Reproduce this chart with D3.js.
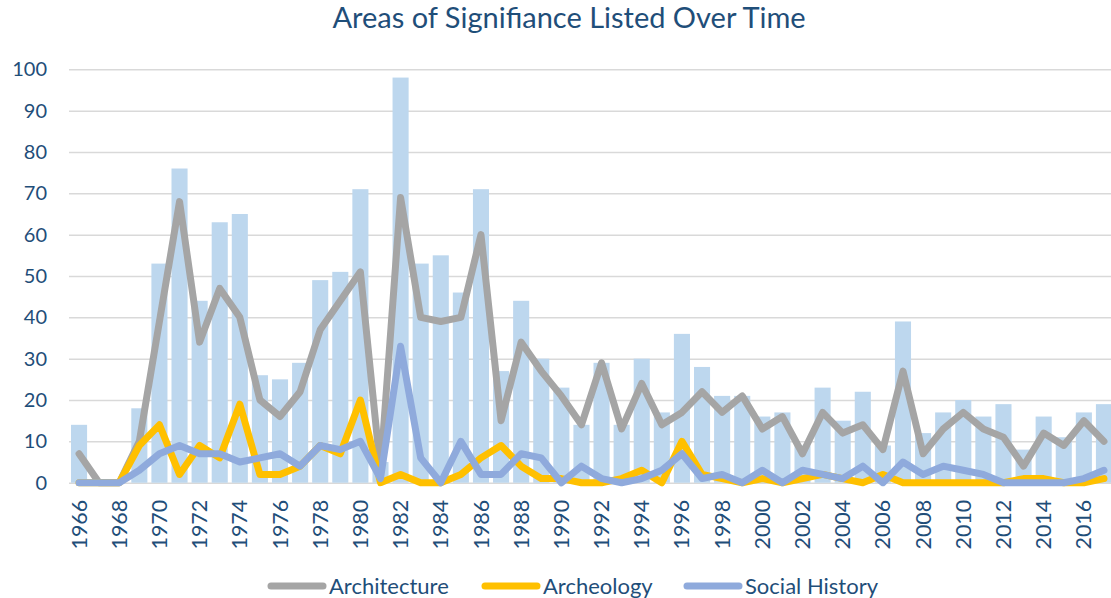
<!DOCTYPE html>
<html>
<head>
<meta charset="utf-8">
<script src="https://cdn.jsdelivr.net/npm/d3@7"></script>
<style>
  body { margin: 0; background: #fff; }
  svg { display: block; font-family: Lato, "Open Sans", sans-serif; }
</style>
</head>
<body>
<div id="chart"></div>
<script>
// values, one per year
var years = [1966,1967,1968,1969,1970,1971,1972,1973,1974,1975,
             1976,1977,1978,1979,1980,1981,1982,1983,1984,1985,
             1986,1987,1988,1989,1990,1991,1992,1993,1994,1995,
             1996,1997,1998,1999,2000,2001,2002,2003,2004,2005,
             2006,2007,2008,2009,2010,2011,2012,2013,2014,2015,
             2016,2017];
var totals = [14,0,0,18,53,76,44,63,65,26,
              25,29,49,51,71,5,98,53,55,46,
              71,27,44,30,23,14,29,14,30,17,
              36,28,21,21,16,17,9,23,15,22,
              9,39,12,17,20,16,19,8,16,11,
              17,19];
var architecture = [7,0,0,10,39,68,34,47,40,20,
                    16,22,37,44,51,3,69,40,39,40,
                    60,15,34,27,21,14,29,13,24,14,
                    17,22,17,21,13,16,7,17,12,14,
                    8,27,7,13,17,13,11,4,12,9,
                    15,10];
var archeology = [0,0,0,9,14,2,9,6,19,2,
                  2,4,9,7,20,0,2,0,0,2,
                  6,9,4,1,1,0,0,1,3,0,
                  10,2,1,0,1,0,1,2,1,0,
                  2,0,0,0,0,0,0,1,1,0,
                  0,1];
var social = [0,0,0,3,7,9,7,7,5,6,
              7,4,9,8,10,1,33,6,0,10,
              2,2,7,6,0,4,1,0,1,3,
              7,1,2,0,3,0,3,2,1,4,
              0,5,2,4,3,2,0,0,0,0,
              1,3];
var yTicks = [0,10,20,30,40,50,60,70,80,90,100];
var seriesNames = ["Architecture", "Archeology", "Social History"];
var seriesColors = ["#A5A5A5", "#FFC000", "#8FAADC"];

var W = 1111, H = 598;
var plotL = 69, plotR = 1114, plotT = 69.3, plotB = 482.7;
var textColor = "#1F4E79";

var svg = d3.select("#chart").append("svg")
    .attr("width", W).attr("height", H);

var x = d3.scaleBand().domain(years).range([plotL, plotR]).paddingInner(0.2).paddingOuter(0.1);
var y = d3.scaleLinear().domain([0, 100]).range([plotB, plotT]);

// title
svg.append("text")
    .attr("x", 569).attr("y", 28)
    .attr("text-anchor", "middle")
    .style("font-size", "29px")
    .style("fill", textColor)
    .text("Areas of Signifiance Listed Over Time");

// gridlines + y labels
var yAxis = svg.append("g")
    .attr("transform", "translate(" + plotL + ",0)")
    .call(d3.axisLeft(y).tickValues(yTicks).tickSize(-(plotR - plotL)).tickPadding(22));
yAxis.select(".domain").remove();
yAxis.selectAll("line").attr("stroke", "#D9D9D9").attr("stroke-width", 1.5);
yAxis.selectAll("text")
    .style("font-size", "20px")
    .style("font-family", "Lato, sans-serif")
    .attr("fill", textColor);

// bars
svg.append("g").selectAll("rect")
    .data(years)
    .enter()
    .append("rect")
    .attr("x", function(d) { return x(d); })
    .attr("width", x.bandwidth())
    .attr("y", function(d, i) { return y(totals[i]); })
    .attr("height", function(d, i) { return y(0) - y(totals[i]); })
    .attr("fill", "#BDD7EE");

// lines
var lineGen = d3.line()
    .x(function(d, i) { return x(years[i]) + x.bandwidth() / 2; })
    .y(function(d) { return y(d); });

[architecture, archeology, social].forEach(function(vals, k) {
    svg.append("path")
        .attr("d", lineGen(vals))
        .attr("fill", "none")
        .attr("stroke", seriesColors[k])
        .attr("stroke-width", 7)
        .attr("stroke-linejoin", "round")
        .attr("stroke-linecap", "round");
});

// x labels (every other year, rotated)
var xAxis = svg.append("g")
    .attr("transform", "translate(0," + plotB + ")")
    .call(d3.axisBottom(x).tickValues(years.filter(function(d, i) { return i % 2 == 0; })).tickSize(0));
xAxis.select(".domain").remove();
xAxis.selectAll("text")
    .attr("transform", "rotate(-90)")
    .attr("x", -17).attr("y", 0).attr("dy", "0.35em")
    .style("text-anchor", "end")
    .style("font-size", "21.5px")
    .style("font-family", "Lato, sans-serif")
    .attr("fill", textColor);

// legend
var legendX = [268, 482, 684];
var legend = svg.append("g");
seriesNames.forEach(function(name, k) {
    legend.append("line")
        .attr("x1", legendX[k] + 3).attr("x2", legendX[k] + 55)
        .attr("y1", 586).attr("y2", 586)
        .attr("stroke", seriesColors[k])
        .attr("stroke-width", 7)
        .attr("stroke-linecap", "round");
    legend.append("text")
        .attr("x", legendX[k] + 61).attr("y", 594)
        .style("font-size", "22px")
        .style("fill", textColor)
        .text(name);
});
</script>
</body>
</html>
